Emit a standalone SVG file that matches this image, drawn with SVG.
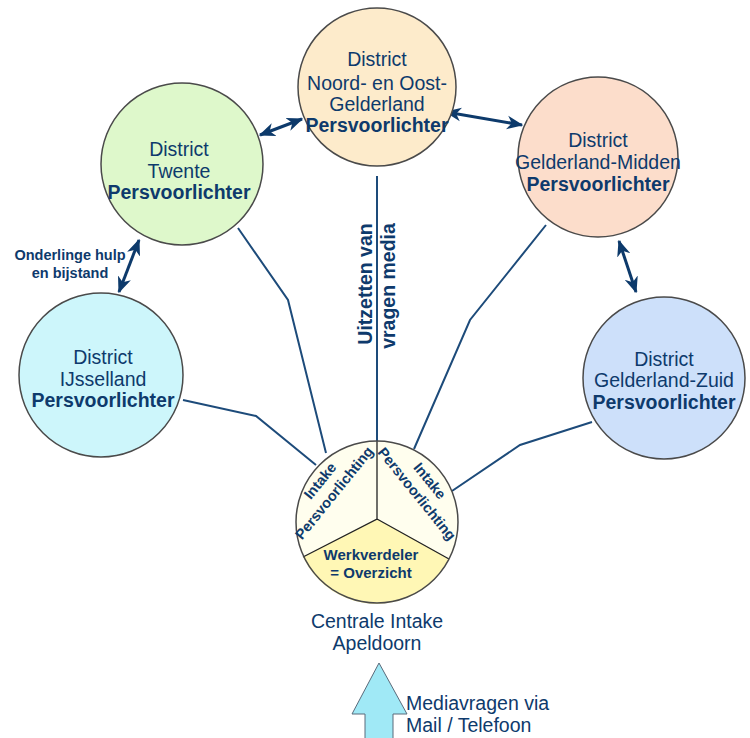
<svg xmlns="http://www.w3.org/2000/svg" width="750" height="738" viewBox="0 0 750 738">
<style>
.c{stroke:#4a4a4a;stroke-width:1.5}
.t{font-family:"Liberation Sans",Arial,sans-serif;font-size:19.5px;fill:#0E3A6C;text-anchor:middle}
.b{font-weight:bold}
.s{font-family:"Liberation Sans",Arial,sans-serif;font-weight:bold;fill:#0E3A6C;text-anchor:middle}
.ln{fill:none;stroke:#1D4B7A;stroke-width:2}
.ar{fill:none;stroke:#0D3A6B;stroke-width:3;marker-start:url(#ah);marker-end:url(#ah)}
</style>
<defs>
<marker id="ah" viewBox="0 0 12 10" refX="11" refY="5" markerWidth="5.5" markerHeight="5" orient="auto-start-reverse" markerUnits="strokeWidth">
<path d="M0,0 L12,5 L0,10 L3.5,5 z" fill="#0D3A6B"/>
</marker>
</defs>
<rect width="750" height="738" fill="#ffffff"/>
<g id="connectors">
<line class="ln" x1="377" y1="176" x2="377" y2="441"/>
<polyline class="ln" points="238,228 288,300 326,453"/>
<polyline class="ln" points="183,400 256,416 316,465"/>
<polyline class="ln" points="546,225 470,320 414,449"/>
<polyline class="ln" points="592,422 520,445 452,491"/>
<line class="ar" x1="260" y1="135" x2="302" y2="119"/>
<line class="ar" x1="446" y1="112" x2="522" y2="125"/>
<line class="ar" x1="139" y1="240" x2="119" y2="292"/>
<line class="ar" x1="619" y1="241" x2="636" y2="292"/>
<text class="s" font-size="19.5" transform="translate(372,284) rotate(-90)">Uitzetten van</text>
<text class="s" font-size="19.5" transform="translate(395,286) rotate(-90)">vragen media</text>
<text class="s" font-size="14.5" x="70" y="260">Onderlinge hulp</text>
<text class="s" font-size="14.5" x="70" y="278">en bijstand</text>
</g>
<g id="noord">
<circle class="c" cx="377" cy="87" r="79" fill="#FDEBCB"/>
<text class="t" x="377" y="66">District</text>
<text class="t" x="377" y="90">Noord- en Oost-</text>
<text class="t" x="377" y="111">Gelderland</text>
<text class="t b" x="377" y="132">Persvoorlichter</text>
</g>
<g id="twente">
<circle class="c" cx="182" cy="164" r="81" fill="#DEF8CB"/>
<text class="t" x="179" y="156">District</text>
<text class="t" x="179" y="178">Twente</text>
<text class="t b" x="179" y="199">Persvoorlichter</text>
</g>
<g id="midden">
<circle class="c" cx="598" cy="157" r="80" fill="#FCDDCB"/>
<text class="t" x="598" y="147">District</text>
<text class="t" x="598" y="169">Gelderland-Midden</text>
<text class="t b" x="598" y="191">Persvoorlichter</text>
</g>
<g id="ijsselland">
<circle class="c" cx="101" cy="375" r="82" fill="#CDF6FB"/>
<text class="t" x="103" y="364">District</text>
<text class="t" x="103" y="386">IJsselland</text>
<text class="t b" x="103" y="407">Persvoorlichter</text>
</g>
<g id="zuid">
<circle class="c" cx="664" cy="378" r="81" fill="#CDE0FA"/>
<text class="t" x="664" y="366">District</text>
<text class="t" x="664" y="387">Gelderland-Zuid</text>
<text class="t b" x="664" y="409">Persvoorlichter</text>
</g>
<g id="centraal">
<circle cx="377" cy="522" r="81" fill="#FFFEEE"/>
<path d="M377,519 L303,557 A81,81 0 0 0 449,559 Z" fill="#FFF7B5"/>
<path d="M377,441 L377,519 L303,557 M377,519 L449,559" fill="none" stroke="#222" stroke-width="1.3"/>
<circle class="c" cx="377" cy="522" r="81" fill="none"/>
<text class="s" font-size="14.5" transform="translate(324,484) rotate(-51)">Intake</text>
<text class="s" font-size="14.5" transform="translate(338,496) rotate(-51)">Persvoorlichting</text>
<text class="s" font-size="14.5" transform="translate(426,484) rotate(51)">Intake</text>
<text class="s" font-size="14.5" transform="translate(413,497) rotate(51)">Persvoorlichting</text>
<text class="s" font-size="15" x="371" y="560">Werkverdeler</text>
<text class="s" font-size="15" x="371" y="578">= Overzicht</text>
<text class="t" x="377" y="628">Centrale Intake</text>
<text class="t" x="377" y="650">Apeldoorn</text>
</g>
<g id="mediavragen">
<path d="M379,663 L407,714 L393,714 L393,740 L365,740 L365,714 L352,714 Z" fill="#A0E9F6" stroke="#5a6a7a" stroke-width="1"/>
<text class="t" x="406" y="710" style="text-anchor:start">Mediavragen via</text>
<text class="t" x="406" y="732" style="text-anchor:start">Mail / Telefoon</text>
</g>
</svg>
